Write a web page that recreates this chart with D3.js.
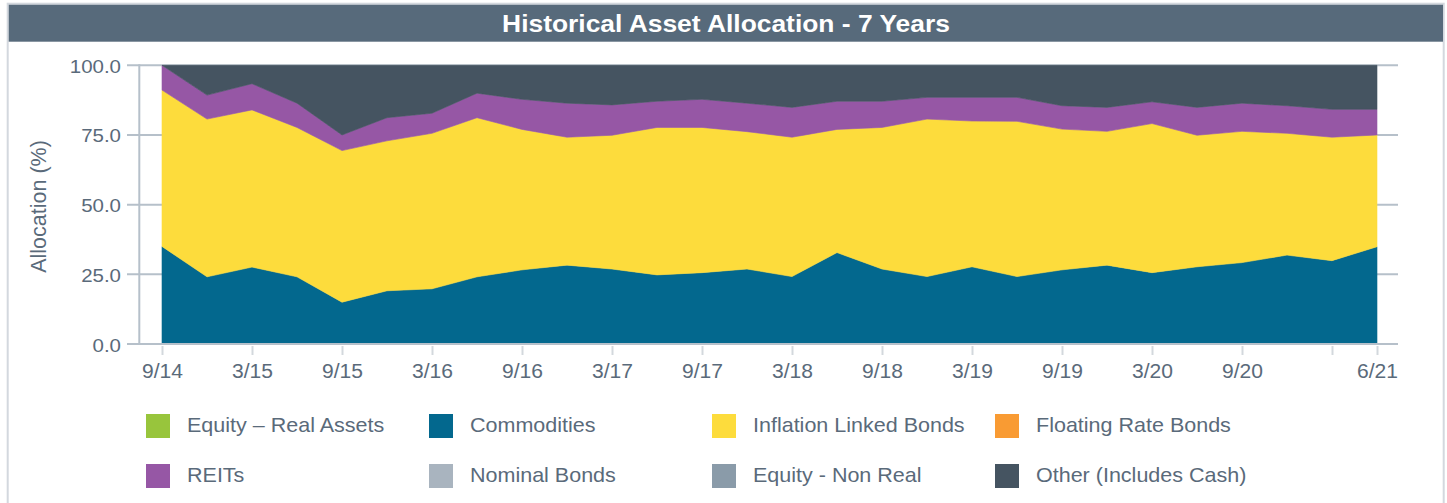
<!DOCTYPE html>
<html>
<head>
<meta charset="utf-8">
<title>Historical Asset Allocation - 7 Years</title>
<script src="https://cdn.jsdelivr.net/npm/d3@7"></script>
<style>
  html, body { margin: 0; padding: 0; background: #ffffff; }
  svg { display: block; font-family: "Liberation Sans", Arial, Helvetica, sans-serif; }
</style>
</head>
<body>
<svg id="chart" width="1447" height="503"></svg>
<script>
// Quarter-end dates (M/YY)
const quarters = ["9/14","12/14","3/15","6/15","9/15","12/15","3/16","6/16","9/16","12/16",
  "3/17","6/17","9/17","12/17","3/18","6/18","9/18","12/18","3/19","6/19",
  "9/19","12/19","3/20","6/20","9/20","12/20","3/21","6/21"];

// Allocation (%) per quarter
const commodities = [35.0,24.1,27.6,24.1,15.0,19.1,19.8,24.1,26.6,28.3,
  26.9,24.8,25.6,26.9,24.2,32.8,26.9,24.2,27.7,24.2,
  26.6,28.3,25.6,27.7,29.2,31.9,29.9,34.9];
const inflationLinkedBonds = [56.1,56.6,56.4,53.6,54.4,53.8,55.8,57.1,50.4,45.9,
  48.0,52.9,52.1,49.3,50.0,44.2,50.8,56.5,52.3,55.7,
  50.5,48.0,53.5,47.2,47.1,43.7,44.3,40.1];
const reits = [8.9,8.6,9.4,8.7,5.6,8.3,7.2,8.8,10.8,12.2,
  10.9,9.4,10.1,10.2,10.7,10.1,9.4,7.8,8.5,8.6,
  8.4,8.6,7.8,10.0,10.1,9.9,10.0,9.2];
const otherInclCash = [0.0,10.7,6.6,13.6,25.0,18.8,17.2,10.0,12.2,13.6,
  14.2,12.9,12.2,13.6,15.1,12.9,12.9,11.5,11.5,11.5,
  14.5,15.1,13.1,15.1,13.6,14.5,15.8,15.8];

// Legend entries (in legend order) and their colours
const legendNames = ["Equity \u2013 Real Assets","Commodities","Inflation Linked Bonds","Floating Rate Bonds",
  "REITs","Nominal Bonds","Equity - Non Real","Other (Includes Cash)"];
const legendColors = ["#98c53c","#03688e","#fddc3c","#f99b33",
  "#9657a5","#a9b4bf","#8a9ba9","#455461"];

// Axis ticks
const yTicks = [0, 25, 50, 75, 100];
const xTickValues = ["9/14","3/15","9/15","3/16","9/16","3/17","9/17","3/18","9/18","3/19","9/19","3/20","9/20","3/21","6/21"];
const xTickLabels = ["9/14","3/15","9/15","3/16","9/16","3/17","9/17","3/18","9/18","3/19","9/19","3/20","9/20","","6/21"];

const titleText = "Historical Asset Allocation - 7 Years";
const yTitle = "Allocation (%)";

// ---- layout ----
const textColor = "#5a6a7a";
const gridColor = "#b6c0ca";
const svg = d3.select("#chart");

// outer frame
svg.append("rect")
  .attr("x", 7.7).attr("y", 3.7).attr("width", 1436).attr("height", 520)
  .attr("fill", "none").attr("stroke", "#d3d8de").attr("stroke-width", 2);

// title bar
svg.append("rect")
  .attr("x", 8.7).attr("y", 4.7).attr("width", 1434.3).attr("height", 37)
  .attr("fill", "#576a7b");
svg.append("text")
  .attr("transform", "translate(726,32) scale(1.1,1)")
  .attr("text-anchor", "middle")
  .attr("fill", "#ffffff")
  .attr("font-weight", "bold")
  .attr("font-size", 24)
  .text(titleText);

// scales
const x = d3.scalePoint().domain(quarters).range([162, 1377]);
const y = d3.scaleLinear().domain([0, 100]).range([344, 65.3]);

// horizontal grid lines
svg.append("g").selectAll("line").data(yTicks).join("line")
  .attr("x1", 127).attr("x2", 1398)
  .attr("y1", d => y(d)).attr("y2", d => y(d))
  .attr("stroke", gridColor).attr("stroke-width", 2);

// stacked areas
const rows = quarters.map((q, i) => ({
  q,
  commodities: commodities[i],
  ilb: inflationLinkedBonds[i],
  reits: reits[i],
  other: otherInclCash[i]
}));
const keys = ["commodities", "ilb", "reits", "other"];
const keyColor = { commodities: legendColors[1], ilb: legendColors[2], reits: legendColors[4], other: legendColors[7] };
const stacked = d3.stack().keys(keys)(rows);
const area = d3.area()
  .x(d => x(d.data.q))
  .y0(d => y(d[0]))
  .y1(d => y(d[1]));
svg.append("g").selectAll("path").data(stacked).join("path")
  .attr("d", area)
  .attr("fill", d => keyColor[d.key])
  .attr("stroke", d => keyColor[d.key])
  .attr("stroke-width", 0.6);

// y axis line
svg.append("line")
  .attr("x1", 139.3).attr("x2", 139.3).attr("y1", y(100) - 1).attr("y2", y(0))
  .attr("stroke", gridColor).attr("stroke-width", 2);
// x axis line
svg.append("line")
  .attr("x1", 138.3).attr("x2", 1398).attr("y1", y(0)).attr("y2", y(0))
  .attr("stroke", gridColor).attr("stroke-width", 2);

// y tick labels
const yAxis = d3.axisLeft(y).tickValues(yTicks).tickFormat(d3.format(".1f")).tickSize(0).tickPadding(0);
const yG = svg.append("g").attr("transform", "translate(121,0)").call(yAxis);
yG.select(".domain").remove();
yG.selectAll("text")
  .attr("x", 0).attr("dy", null).attr("y", 0)
  .attr("transform", "translate(0,7) scale(1.1,1)")
  .attr("fill", textColor).attr("font-size", 18.6)
  .attr("font-family", "Liberation Sans, Arial, sans-serif");

// x ticks + labels
const xAxis = d3.axisBottom(x).tickValues(xTickValues)
  .tickFormat((d, i) => xTickLabels[i]).tickSize(9).tickPadding(0);
const xG = svg.append("g").attr("transform", "translate(0,346)").call(xAxis);
xG.select(".domain").remove();
xG.selectAll(".tick line").attr("stroke", "#d3d8dd").attr("stroke-width", 2);
xG.selectAll("text")
  .attr("y", 0).attr("dy", null)
  .attr("transform", "translate(0,32) scale(1.08,1)")
  .attr("fill", textColor).attr("font-size", 19.5)
  .attr("font-family", "Liberation Sans, Arial, sans-serif");

// y axis title
svg.append("text")
  .attr("transform", "translate(46,206.5) rotate(-90)")
  .attr("text-anchor", "middle")
  .attr("fill", textColor)
  .attr("font-size", 21.5)
  .text(yTitle);

// legend: 4 columns x 2 rows
const legendColX = [146, 429, 712, 995];
const legendRowY = [414, 464];
const lg = svg.append("g").selectAll("g").data(legendNames).join("g")
  .attr("transform", (d, i) => `translate(${legendColX[i % 4]},${legendRowY[Math.floor(i / 4)]})`);
lg.append("rect")
  .attr("width", 24).attr("height", 24)
  .attr("fill", (d, i) => legendColors[i]);
lg.append("text")
  .attr("transform", "translate(41,18) scale(1.05,1)")
  .attr("fill", textColor)
  .attr("font-size", 20.5)
  .text(d => d);
</script>
</body>
</html>
